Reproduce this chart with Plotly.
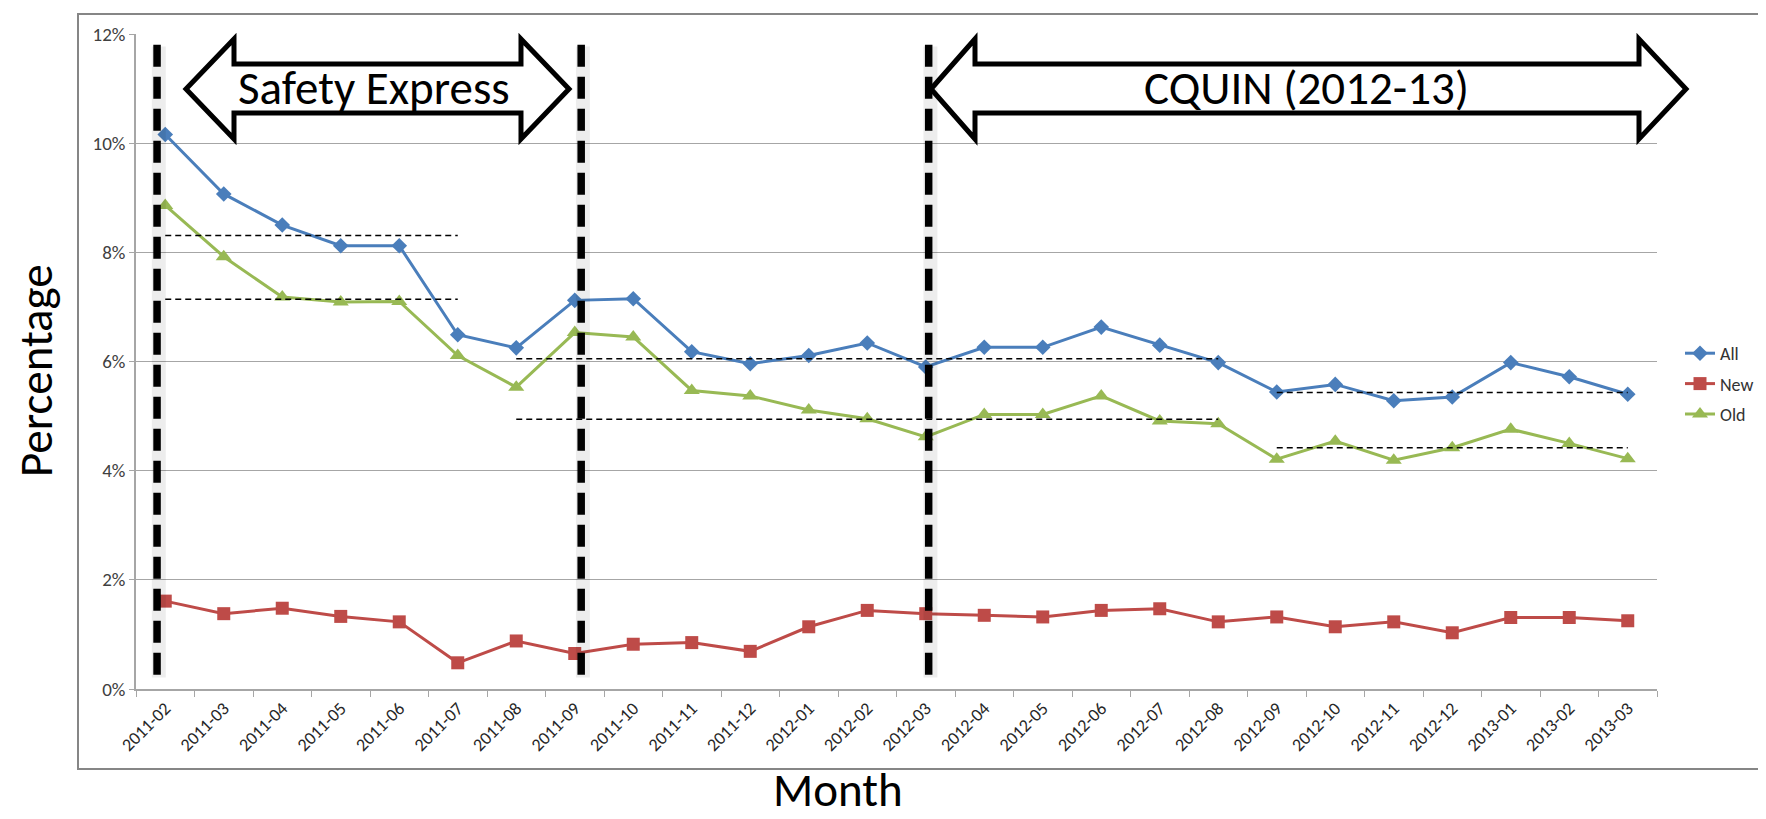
import plotly.graph_objects as go

months = ["2011-02","2011-03","2011-04","2011-05","2011-06","2011-07","2011-08","2011-09",
          "2011-10","2011-11","2011-12","2012-01","2012-02","2012-03","2012-04","2012-05",
          "2012-06","2012-07","2012-08","2012-09","2012-10","2012-11","2012-12","2013-01",
          "2013-02","2013-03"]
all_pct = [10.16, 9.07, 8.50, 8.12, 8.12, 6.49, 6.25, 7.12,
           7.15, 6.18, 5.96, 6.11, 6.34, 5.90, 6.26, 6.26,
           6.63, 6.30, 5.98, 5.44, 5.58, 5.28, 5.35, 5.98,
           5.72, 5.40]
new_pct = [1.61, 1.38, 1.48, 1.33, 1.23, 0.48, 0.88, 0.65,
           0.82, 0.85, 0.69, 1.14, 1.44, 1.38, 1.35, 1.32,
           1.44, 1.47, 1.23, 1.32, 1.14, 1.23, 1.03, 1.31,
           1.31, 1.25]
old_pct = [8.86, 7.92, 7.18, 7.09, 7.10, 6.11, 5.53, 6.53,
           6.45, 5.47, 5.37, 5.11, 4.95, 4.62, 5.03, 5.03,
           5.37, 4.91, 4.86, 4.21, 4.54, 4.19, 4.42, 4.76,
           4.50, 4.22]

# period reference levels (dashed lines): (start index, end index, All level, Old level)
period_start = [0, 6, 19]
period_end = [5, 18, 25]
period_all = [8.31, 6.05, 5.43]
period_old = [7.14, 4.94, 4.42]

# vertical period markers (category positions)
marker_x = [-0.14, 7.11, 13.05]
marker_y = [0.26, 11.82]

FONT = "Calibri, Carlito, Lato, sans-serif"
W, H = 1766, 819
L, R, T, B = 128, 117, 26, 138
PW, PH = W - L - R, H - T - B

def px(x):
    return (x - L) / PW

def py(y):
    return (H - B - y) / PH

xs = list(range(len(months)))
fig = go.Figure()
fig.add_trace(go.Scatter(x=xs, y=all_pct, name="All", mode="lines+markers", legendgroup="a",
                         line=dict(color="#4A7EBB", width=3),
                         marker=dict(symbol="diamond", size=12, color="#4A7EBB")))
fig.add_trace(go.Scatter(x=xs, y=new_pct, name="New", mode="lines+markers", legendgroup="b",
                         line=dict(color="#BE4B48", width=3),
                         marker=dict(symbol="square", size=13, color="#BE4B48")))
fig.add_trace(go.Scatter(x=xs, y=old_pct, name="Old", mode="lines+markers", legendgroup="c",
                         line=dict(color="#98B954", width=3),
                         marker=dict(symbol="triangle-up", size=14, color="#98B954")))

for s, e, a, o in zip(period_start, period_end, period_all, period_old):
    for lvl in (a, o):
        fig.add_trace(go.Scatter(x=[s, e], y=[lvl, lvl], mode="lines", showlegend=False,
                                 hoverinfo="skip",
                                 line=dict(color="black", width=1.5, dash="6px,4px")))

shapes = []
# outer chart frame
shapes.append(dict(type="rect", xref="paper", yref="paper",
                   x0=px(70), x1=px(1762), y0=py(761), y1=py(6),
                   line=dict(color="#868686", width=2), fillcolor="rgba(0,0,0,0)", layer="below"))

def dbl_arrow(xl, xbl, xbr, xr, ytop=31, ysh_top=56, ysh_bot=105, ybot=131):
    ym = (ytop + ybot) / 2
    pts = [(xl, ym), (xbl, ytop), (xbl, ysh_top), (xbr, ysh_top), (xbr, ytop), (xr, ym),
           (xbr, ybot), (xbr, ysh_bot), (xbl, ysh_bot), (xbl, ybot)]
    d = "M " + " L ".join(f"{px(a):.5f},{py(b):.5f}" for a, b in pts) + " Z"
    return dict(type="path", xref="paper", yref="paper", path=d,
                fillcolor="white", line=dict(color="black", width=5), layer="above")

shapes.append(dbl_arrow(178, 226, 513, 561))
shapes.append(dbl_arrow(923, 967, 1631, 1678))

for xv in marker_x:
    shapes.append(dict(type="line", xref="x", yref="y", x0=xv + 0.03, x1=xv + 0.03,
                       y0=marker_y[0] - 0.05, y1=marker_y[1] - 0.05,
                       line=dict(color="rgba(0,0,0,0.07)", width=14), layer="above"))
    shapes.append(dict(type="line", xref="x", yref="y", x0=xv, x1=xv,
                       y0=marker_y[0], y1=marker_y[1],
                       line=dict(color="black", width=7.5, dash="22px,10px"), layer="above"))

annotations = [
    dict(text="Safety Express", xref="paper", yref="paper", x=px(366), y=py(80),
         showarrow=False, font=dict(family=FONT, size=47, color="black"),
         xanchor="center", yanchor="middle"),
    dict(text="CQUIN (2012-13)", xref="paper", yref="paper", x=px(1298), y=py(80),
         showarrow=False, font=dict(family=FONT, size=47, color="black"),
         xanchor="center", yanchor="middle"),
    dict(text="Percentage", xref="paper", yref="paper", x=px(28), y=py(363),
         showarrow=False, textangle=-90, font=dict(family=FONT, size=47, color="black"),
         xanchor="center", yanchor="middle"),
    dict(text="Month", xref="paper", yref="paper", x=px(830), y=py(813),
         showarrow=False, font=dict(family=FONT, size=47, color="black"),
         xanchor="center", yanchor="bottom"),
]

fig.update_layout(
    width=W, height=H,
    margin=dict(l=L, r=R, t=T, b=B),
    paper_bgcolor="white", plot_bgcolor="white",
    font=dict(family=FONT, color="#404040"),
    shapes=shapes, annotations=annotations,
    legend=dict(x=px(1672), y=py(327), xanchor="left", yanchor="top",
                font=dict(family=FONT, size=18, color="#333333"),
                bgcolor="rgba(0,0,0,0)", itemwidth=30, tracegroupgap=4),
    showlegend=True,
)
fig.update_xaxes(range=[-0.5, len(months) - 0.5], tickmode="array", tickvals=xs, ticktext=months,
                 tickangle=-45, ticks="", showgrid=False, zeroline=False,
                 showline=True, linecolor="#A6A6A6", linewidth=1.5,
                 tickfont=dict(family=FONT, size=18, color="#262626"),
                 minor=dict(tickmode="array", tickvals=[i - 0.5 for i in range(len(months) + 1)],
                            ticks="outside", ticklen=6, tickcolor="#A6A6A6", showgrid=False))
fig.update_yaxes(range=[0, 12], tickmode="array", tickvals=[0, 2, 4, 6, 8, 10, 12],
                 ticktext=["0%", "2%", "4%", "6%", "8%", "10%", "12%"],
                 ticks="outside", ticklen=5, tickcolor="#A6A6A6",
                 showgrid=True, gridcolor="#A6A6A6", gridwidth=1, zeroline=False,
                 showline=True, linecolor="#A6A6A6", linewidth=1.5,
                 tickfont=dict(family=FONT, size=19, color="#404040"))

fig.write_html("out.html")
